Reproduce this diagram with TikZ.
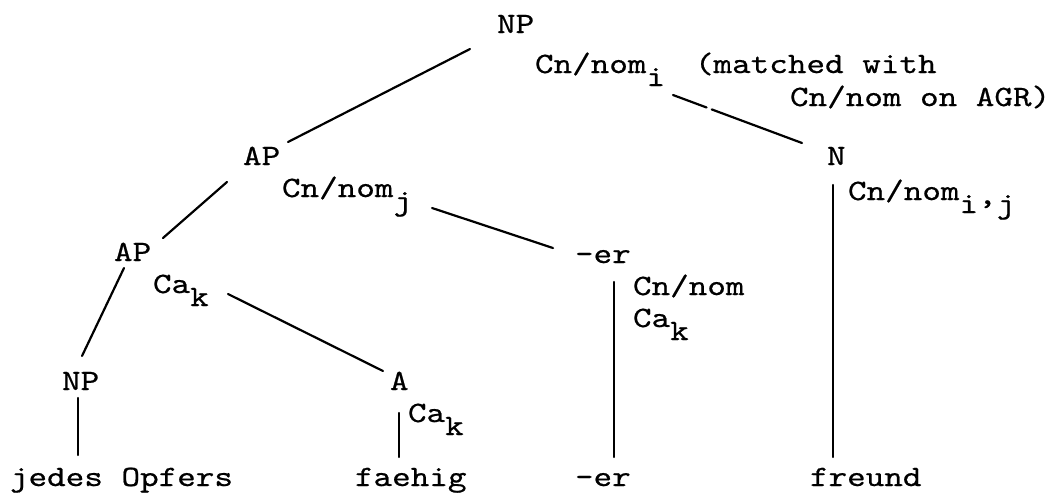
\documentclass[tikz,border=0pt]{standalone}
\usepackage{fontspec}
\newfontfamily\tw[FakeStretch=1.2,FakeBold=0.6]{lmmono10-regular.otf}
\usetikzlibrary{calc}
\newcommand\lowr[1]{\raisebox{-13pt}{#1}}
\begin{document}
\begin{tikzpicture}[x=1pt,y=-1pt,
  txt/.style={anchor=base west,inner sep=0pt,outer sep=0pt,font=\tw\fontsize{29.5}{35}\selectfont},
  edge/.style={line width=2.2pt,line cap=round}]
\useasboundingbox (0,0) rectangle (1060,493);
\fill[white] (0,0) rectangle (1060,493);
% nodes
\node[txt] (np) at (497,33) {NP};
\node[txt] (npf) at (535,73) {Cn/nom\lowr{i}};
\node[txt] (npm) at (695,73) {(matched with};
\node[txt] (npa) at (790,106) {Cn/nom on AGR)};
\node[txt] (ap1) at (243,165) {AP};
\node[txt] (ap1f) at (282,197) {Cn/nom\lowr{j}};
\node[txt] (n) at (827,165) {N};
\node[txt] (nf) at (848,200) {Cn/nom\lowr{i\raisebox{9pt}{,}j}};
\node[txt] (ap2) at (114,261) {AP};
\node[txt] (ap2f) at (153,293) {Ca\lowr{k}};
\node[txt] (er) at (575,263) {-er};
\node[txt] (erf) at (633,295) {Cn/nom};
\node[txt] (erg) at (633,327) {Ca\lowr{k}};
\node[txt] (np2) at (62,390) {NP};
\node[txt] (a) at (390,390) {A};
\node[txt] (af) at (408,422) {Ca\lowr{k}};
\node[txt] (l1) at (10,486) {jedes Opfers};
\node[txt] (l2) at (355,486) {faehig};
\node[txt] (l3) at (575,486) {-er};
\node[txt] (l4) at (810,486) {freund};
% connectors
\draw[edge] ([shift={(-27,16)}]np.base west) -- ([shift={(45,-23)}]ap1.base west);
\coordinate (r1) at ([shift={(138,22)}]npf.base west);
\coordinate (r2) at ([shift={(-25,-22)}]n.base west);
\draw[edge] (r1) -- ($(r1)!0.26!(r2)$) ($(r1)!0.30!(r2)$) -- (r2);
\draw[edge] ([shift={(-16,17)}]ap1.base west) -- ([shift={(49,-23)}]ap2.base west);
\draw[edge] ([shift={(150,11)}]ap1f.base west) -- ([shift={(-22,-15)}]er.base west);
\draw[edge] ([shift={(10,7)}]ap2.base west) -- ([shift={(20,-34)}]np2.base west);
\draw[edge] ([shift={(75,1)}]ap2f.base west) -- ([shift={(-7,-19)}]a.base west);
\draw[edge] ([shift={(16,8)}]np2.base west) -- ([shift={(68,-31)}]l1.base west);
\draw[edge] ([shift={(9,23)}]a.base west) -- ([shift={(44,-29)}]l2.base west);
\draw[edge] ([shift={(39,19)}]er.base west) -- ([shift={(39,-29)}]l3.base west);
\draw[edge] ([shift={(6,20)}]n.base west) -- ([shift={(23,-29)}]l4.base west);
\end{tikzpicture}
\end{document}
